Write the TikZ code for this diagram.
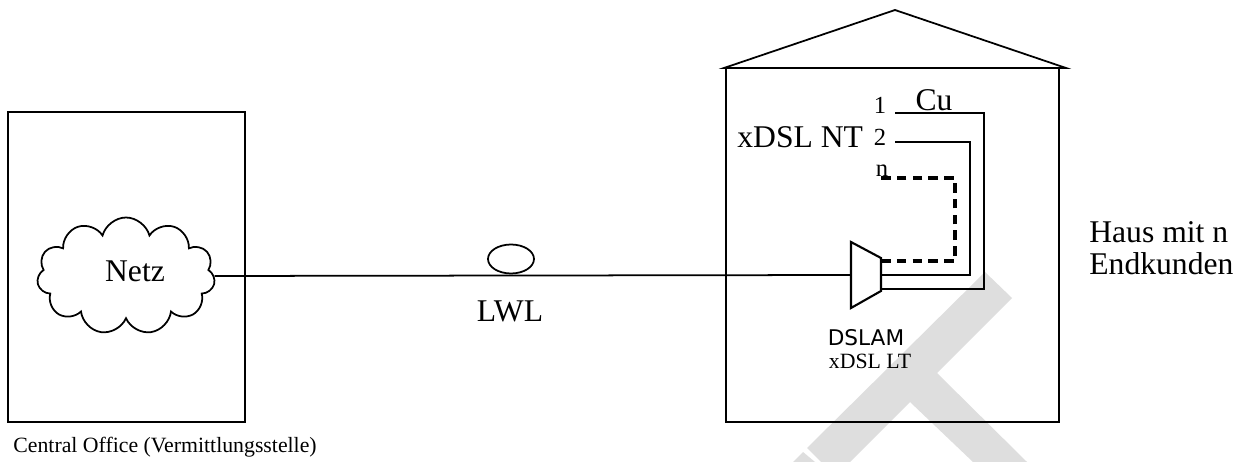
\documentclass[tikz,border=0pt]{standalone}
\usepackage{fontspec}
\setmainfont{Liberation Serif}
\newfontfamily\dslamfont{DejaVu Sans}
\usetikzlibrary{positioning,shapes.symbols,shapes.geometric}
\begin{document}
\begin{tikzpicture}[
                x=0.02cm,y=-0.02cm,
                dslBox/.style={draw=black,line width=1pt},
                dslLine/.style={draw=black,line width=1pt},
                dslPair/.style={draw=black,line width=1.2pt},
                dslDash/.style={draw=black,line width=1.8pt,dash pattern=on 5.5pt off 3.5pt},
                dslBig/.style={inner sep=0pt,font=\fontsize{18}{18}\selectfont},
                dslSmall/.style={inner sep=0pt,font=\fontsize{12.4}{13}\selectfont},
                dslNum/.style={inner sep=0pt,font=\fontsize{14}{14}\selectfont},
                dslMark/.style={draw=none,fill=black!13}]
                \useasboundingbox (0,0) rectangle (1244,462);
                % watermark behind everything
                \fill[dslMark] (985,272) -- (1012,298) -- (937,373) -- (1027,462) -- (973,462) -- (910,402) -- (850,462) -- (821,462) -- (807,448) -- cycle;
                \fill[dslMark] (803,452) -- (815,462) -- (793,462) -- cycle;
                % office
                \draw[dslBox] (8,112) rectangle (245,422);
                \node[dslSmall,anchor=west] (officeText) at (13,447) {Central Office (Vermittlungsstelle)};
                \node[cloud,draw=black,line width=1pt,aspect=1.5,cloud puffs=11,minimum width=3.56cm,inner sep=0pt,
                      minimum height=2.34cm] (netz) at (126,276) {};
                \node[dslBig,anchor=base] (netzText) at (135,282) {Netz};
                % house
                \coordinate (roofL) at (724,68);
                \coordinate (roofT) at (895,10);
                \coordinate (roofR) at (1066,68);
                \draw[dslBox] (roofL) -- (roofT) -- (roofR) -- cycle;
                \draw[dslBox] (726,68) -- (726,422) -- (1059,422) -- (1059,68);
                \node[dslBig,anchor=base west] (hausA) at (1089,243) {Haus mit n};
                \node[dslBig,anchor=base west] (hausB) at (1089,275) {Endkunden};
                % fibre
                \coordinate (muxIn) at (851,275);
                \draw[dslLine] (netz.east) -- (muxIn);
                \node[draw=black,line width=1pt,ellipse,inner sep=0pt,minimum width=0.92cm,minimum height=0.58cm] (lwlRing) at (511,259) {};
                \node[dslBig] (lwlText) at (510,311) {LWL};
                % multiplexer
                \draw[dslPair,fill=white] (851,242) -- (881,258) -- (881,291) -- (851,308) -- cycle;
                \draw[dslPair] (881,289) -- (984,289) -- (984,113) -- (895,113);
                \draw[dslPair] (881,275) -- (970,275) -- (970,142) -- (895,142);
                \draw[dslDash] (881,261) -- (955,261) -- (955,178) -- (880,178);
                \node[dslBig,anchor=base] (cuText) at (934,111) {Cu};
                \node[dslBig,anchor=base west] (ntText) at (737,148) {xDSL NT};
                \node[dslNum,anchor=base] (oneText) at (880,114) {1};
                \node[dslNum,anchor=base] (twoText) at (880,146) {2};
                \node[dslNum,anchor=base] (nText) at (882,177) {n};
                \node[dslSmall,font=\fontsize{12.3}{13}\dslamfont] (lamText) at (866,338) {DSLAM};
                \node[dslSmall] (ltText) at (870,361) {xDSL LT};
            \end{tikzpicture}
\end{document}
